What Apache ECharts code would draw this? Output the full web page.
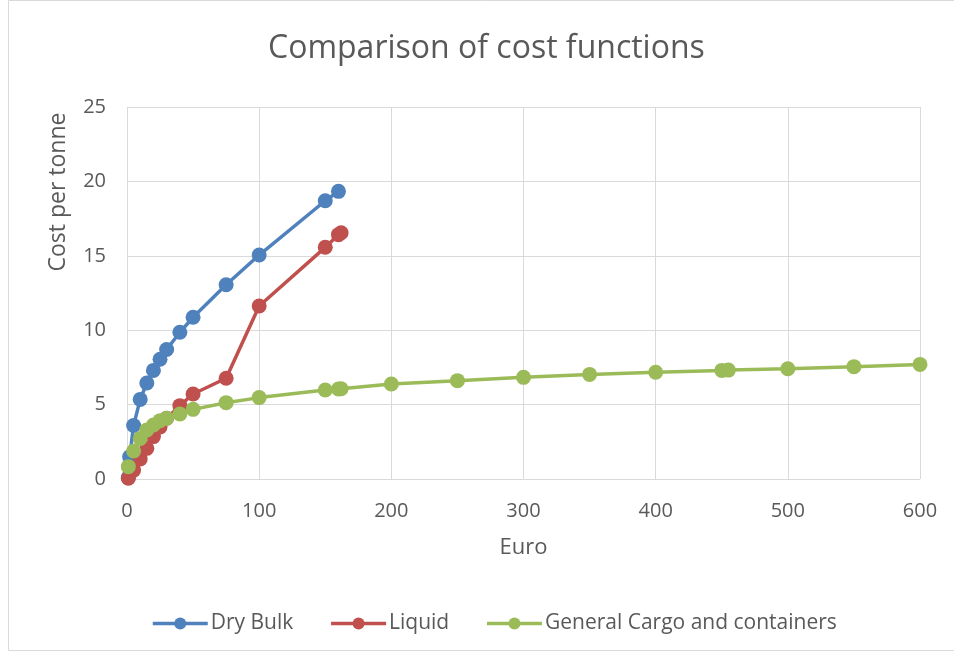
<!DOCTYPE html>
<html><head><meta charset="utf-8">
<script src="https://cdn.jsdelivr.net/npm/echarts@6/dist/echarts.min.js"></script>
<style>html,body{margin:0;padding:0;background:#fff}#c{width:954px;height:655px}</style>
</head><body><div id="c"></div>
<script>
const dryX = [1, 2, 5, 10, 15, 20, 25, 30, 40, 50, 75, 100, 150, 160];
const dryY = [0.1, 1.5, 3.6, 5.35, 6.45, 7.3, 8.05, 8.7, 9.86, 10.87, 13.05, 15.05, 18.7, 19.33];
const liqX = [1, 5, 10, 15, 20, 25, 30, 40, 50, 75, 100, 150, 160, 162];
const liqY = [0.05, 0.6, 1.35, 2.06, 2.85, 3.5, 4.08, 4.93, 5.71, 6.77, 11.63, 15.57, 16.42, 16.55];
const genX = [1, 5, 10, 15, 20, 25, 30, 40, 50, 75, 100, 150, 160, 162, 200, 250, 300, 350, 400, 450, 455, 500, 550, 600];
const genY = [0.83, 1.88, 2.73, 3.3, 3.63, 3.92, 4.08, 4.37, 4.68, 5.13, 5.47, 5.98, 6.05, 6.07, 6.38, 6.61, 6.83, 7.03, 7.17, 7.3, 7.32, 7.41, 7.55, 7.7];
const seriesNames = ['Dry Bulk', 'Liquid', 'General Cargo and containers'];
const colors = ['#4F81BD', '#C0504D', '#9BBB59'];
const zip = (xs, ys) => xs.map((x, i) => [x, ys[i]]);
const font = 'Open Sans';
const chart = echarts.init(document.getElementById('c'));
chart.setOption({
  animation: false,
  color: colors,
  title: {
    text: 'Comparison of cost functions', left: 263, top: 28,
    textStyle: { fontFamily: font, fontSize: 32, fontWeight: 'normal', color: '#595959' }
  },
  graphic: [{ type: 'rect', shape: { x: 8.5, y: 0.5, width: 960, height: 650 },
    style: { fill: 'none', stroke: '#d9d9d9', lineWidth: 1 } }],
  legend: {
    top: 608, left: 146, itemWidth: 55, itemHeight: 15, itemGap: 36,
    lineStyle: { width: 3.5 },
    textStyle: { fontFamily: font, fontSize: 21, color: '#595959', padding: [0, 0, 0, -2] },
    data: seriesNames
  },
  grid: { left: 127, right: 34, top: 107, bottom: 176 },
  xAxis: {
    type: 'value', min: 0, max: 600, interval: 100,
    name: 'Euro', nameLocation: 'middle', nameGap: 58,
    nameTextStyle: { fontFamily: font, fontSize: 22, color: '#595959' },
    axisLine: { show: false }, axisTick: { show: false },
    axisLabel: { fontFamily: font, fontSize: 20, color: '#595959', margin: 22 },
    splitLine: { lineStyle: { color: '#d9d9d9', width: 1 } }
  },
  yAxis: {
    type: 'value', min: 0, max: 25, interval: 5,
    name: 'Cost per tonne', nameLocation: 'middle', nameGap: 57,
    nameTextStyle: { fontFamily: font, fontSize: 23, color: '#595959', padding: [0, 0, 0, 202] },
    axisLine: { show: false }, axisTick: { show: false },
    axisLabel: { fontFamily: font, fontSize: 20, color: '#595959', margin: 21 },
    splitLine: { lineStyle: { color: '#d9d9d9', width: 1 } }
  },
  series: [
    { name: seriesNames[0], type: 'line', data: zip(dryX, dryY) },
    { name: seriesNames[1], type: 'line', data: zip(liqX, liqY) },
    { name: seriesNames[2], type: 'line', data: zip(genX, genY) }
  ].map(s => Object.assign(s, { symbol: 'circle', symbolSize: 15, lineStyle: { width: 3.5 } }))
});
</script></body></html>
